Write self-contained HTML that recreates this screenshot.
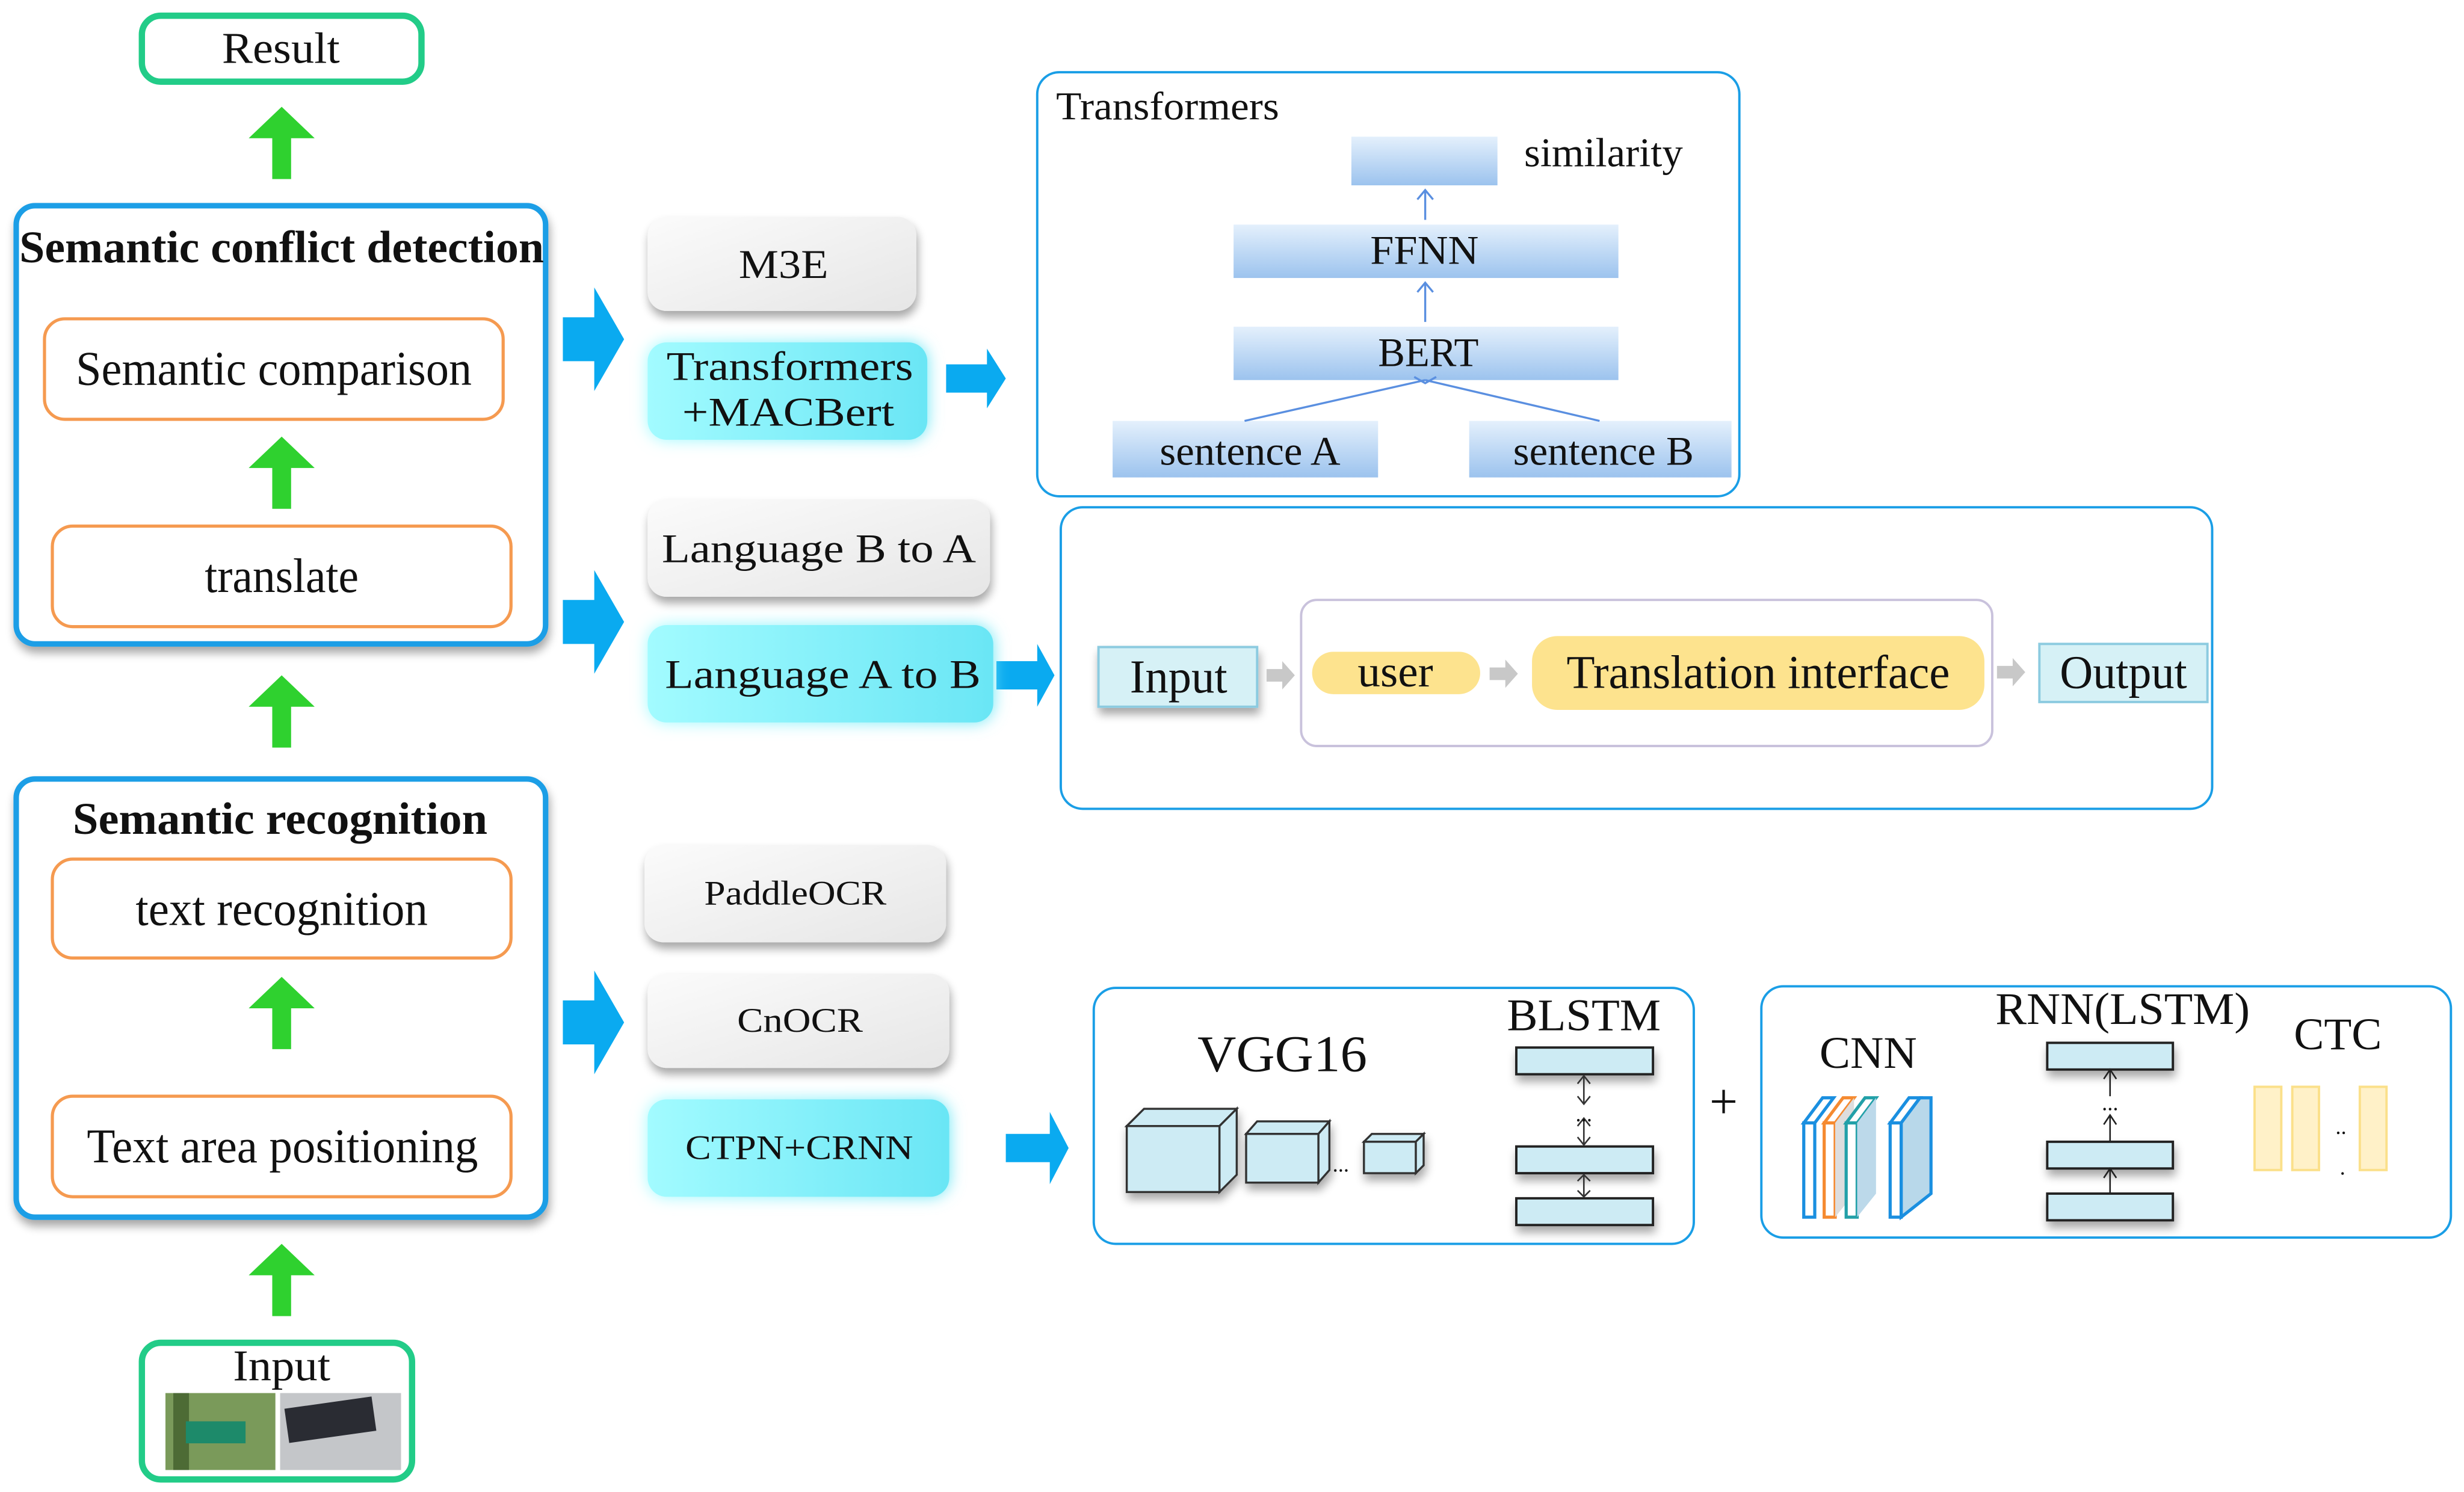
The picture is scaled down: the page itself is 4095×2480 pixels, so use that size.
<!DOCTYPE html>
<html><head><meta charset="utf-8">
<style>
html,body{margin:0;padding:0;background:#fff;}
svg{display:block;}
</style></head>
<body>
<svg width="4095" height="2480" viewBox="0 0 1568 950" xmlns="http://www.w3.org/2000/svg" font-family="Liberation Serif, DejaVu Serif, serif" fill="#111">
<defs>
<linearGradient id="gray" x1="0" y1="0" x2="1" y2="1"><stop offset="0" stop-color="#fbfbfb"/><stop offset="1" stop-color="#e6e6e6"/></linearGradient>
<linearGradient id="cyan" x1="0" y1="0" x2="1" y2="0"><stop offset="0" stop-color="#a2fbff"/><stop offset="1" stop-color="#6ae6f5"/></linearGradient>
<linearGradient id="bar" x1="0" y1="0" x2="0" y2="1"><stop offset="0" stop-color="#e4f0fc"/><stop offset="1" stop-color="#9cc3ee"/></linearGradient>
<filter id="sh" x="-20%" y="-20%" width="140%" height="150%"><feGaussianBlur in="SourceAlpha" stdDeviation="3"/><feOffset dx="1" dy="4"/><feComponentTransfer><feFuncA type="linear" slope="0.35"/></feComponentTransfer><feMerge><feMergeNode/><feMergeNode in="SourceGraphic"/></feMerge></filter>
<filter id="glow" x="-20%" y="-30%" width="140%" height="160%"><feGaussianBlur in="SourceGraphic" stdDeviation="5"/><feMerge><feMergeNode/><feMergeNode in="SourceGraphic"/></feMerge></filter>
<g id="garrow"><polygon points="-21,20 0,0 21,20 6,20 6,46 -6,46 -6,20" fill="#2fd12f"/></g>
<g id="barrow"><polygon points="0,14 20,14 20,-33 39,0 20,33 20,-14 0,-14" fill="#0aaaf0"/></g>
</defs>

<!-- Result -->
<rect x="90" y="10" width="178" height="42" rx="12" fill="#fff" stroke="#22cc88" stroke-width="4"/>
<text x="141" y="40" font-size="28" textLength="75" lengthAdjust="spacingAndGlyphs">Result</text>

<!-- Semantic conflict detection -->
<rect x="10" y="131" width="337" height="279" rx="12" fill="#fff" stroke="#1a9ee6" stroke-width="3.5" filter="url(#sh)"/>
<text x="12" y="167" font-size="29" font-weight="bold" textLength="334" lengthAdjust="spacingAndGlyphs">Semantic conflict detection</text>
<rect x="28" y="203" width="292" height="64" rx="13" fill="#fff" stroke="#f59a50" stroke-width="2"/>
<text x="48" y="245" font-size="31" textLength="252" lengthAdjust="spacingAndGlyphs">Semantic comparison</text>
<rect x="33" y="335" width="292" height="64" rx="13" fill="#fff" stroke="#f59a50" stroke-width="2"/>
<text x="130" y="377" font-size="31" textLength="98" lengthAdjust="spacingAndGlyphs">translate</text>

<!-- Semantic recognition -->
<rect x="10" y="496" width="337" height="279" rx="12" fill="#fff" stroke="#1a9ee6" stroke-width="3.5" filter="url(#sh)"/>
<text x="46" y="531" font-size="29" font-weight="bold" textLength="264" lengthAdjust="spacingAndGlyphs">Semantic recognition</text>
<rect x="33" y="547" width="292" height="63" rx="13" fill="#fff" stroke="#f59a50" stroke-width="2"/>
<text x="86" y="589" font-size="31" textLength="186" lengthAdjust="spacingAndGlyphs">text recognition</text>
<rect x="33" y="698" width="292" height="64" rx="13" fill="#fff" stroke="#f59a50" stroke-width="2"/>
<text x="55" y="740" font-size="31" textLength="249" lengthAdjust="spacingAndGlyphs">Text area positioning</text>

<!-- green arrows -->
<use href="#garrow" x="179" y="68"/>
<use href="#garrow" x="179" y="278"/>
<use href="#garrow" x="179" y="430"/>
<use href="#garrow" x="179" y="622"/>
<use href="#garrow" x="179" y="792"/>

<!-- Input -->
<rect x="90" y="855" width="172" height="87" rx="12" fill="#fff" stroke="#22cc88" stroke-width="4"/>
<text x="148" y="879" font-size="28" textLength="62" lengthAdjust="spacingAndGlyphs">Input</text>
<rect x="105" y="887" width="70" height="49" fill="#7a9a5a"/>
<rect x="110" y="887" width="10" height="49" fill="#4d6b35"/>
<rect x="118" y="905" width="38" height="14" fill="#1d8a6a"/>
<rect x="178" y="887" width="77" height="49" fill="#c4c6c9"/>
<rect x="182" y="893" width="56" height="22" fill="#2a2c33" transform="rotate(-8 210 904)"/>

<!-- blue arrows -->
<use href="#barrow" x="358" y="216"/>
<use href="#barrow" x="358" y="396"/>
<use href="#barrow" x="358" y="651"/>
<polygon points="602,232 628,232 628,222 640,241 628,260 628,250 602,250" fill="#0aaaf0"/>
<polygon points="634,421 660,421 660,410 671,430 660,450 660,439 634,439" fill="#0aaaf0"/>
<polygon points="640,722 668,722 668,708 680,731 668,754 668,740 640,740" fill="#0aaaf0"/>

<!-- buttons -->
<g filter="url(#sh)">
<rect x="412" y="138" width="171" height="60" rx="12" fill="url(#gray)"/>
<rect x="412" y="318" width="218" height="62" rx="12" fill="url(#gray)"/>
<rect x="410" y="538" width="192" height="62" rx="12" fill="url(#gray)"/>
<rect x="412" y="620" width="192" height="60" rx="12" fill="url(#gray)"/>
</g>
<g filter="url(#glow)">
<rect x="412" y="218" width="178" height="62" rx="12" fill="url(#cyan)"/>
<rect x="412" y="398" width="220" height="62" rx="12" fill="url(#cyan)"/>
<rect x="412" y="700" width="192" height="62" rx="12" fill="url(#cyan)"/>
</g>
<text x="470" y="177" font-size="26" textLength="57" lengthAdjust="spacingAndGlyphs">M3E</text>
<text x="424" y="242" font-size="26" textLength="157" lengthAdjust="spacingAndGlyphs">Transformers</text>
<text x="434" y="271" font-size="26" textLength="135" lengthAdjust="spacingAndGlyphs">+MACBert</text>
<text x="421" y="358" font-size="26" textLength="200" lengthAdjust="spacingAndGlyphs">Language B to A</text>
<text x="423" y="438" font-size="26" textLength="201" lengthAdjust="spacingAndGlyphs">Language A to B</text>
<text x="448" y="576" font-size="22" textLength="116" lengthAdjust="spacingAndGlyphs">PaddleOCR</text>
<text x="469" y="657" font-size="22" textLength="80" lengthAdjust="spacingAndGlyphs">CnOCR</text>
<text x="436" y="738" font-size="22" textLength="145" lengthAdjust="spacingAndGlyphs">CTPN+CRNN</text>

<!-- Transformers box -->
<rect x="660" y="46" width="447" height="270" rx="14" fill="#fff" stroke="#1a9ee6" stroke-width="1.5"/>
<text x="672" y="76" font-size="25" textLength="142" lengthAdjust="spacingAndGlyphs">Transformers</text>
<rect x="860" y="87" width="93" height="31" fill="url(#bar)"/>
<text x="970" y="106" font-size="26" textLength="101" lengthAdjust="spacingAndGlyphs">similarity</text>
<rect x="785" y="143" width="245" height="34" fill="url(#bar)"/>
<text x="872" y="168" font-size="26" textLength="69" lengthAdjust="spacingAndGlyphs">FFNN</text>
<rect x="785" y="208" width="245" height="34" fill="url(#bar)"/>
<text x="877" y="233" font-size="26" textLength="64" lengthAdjust="spacingAndGlyphs">BERT</text>
<rect x="708" y="268" width="169" height="36" fill="url(#bar)"/>
<text x="738" y="296" font-size="26" textLength="115" lengthAdjust="spacingAndGlyphs">sentence A</text>
<rect x="935" y="268" width="167" height="36" fill="url(#bar)"/>
<text x="963" y="296" font-size="26" textLength="115" lengthAdjust="spacingAndGlyphs">sentence B</text>
<g stroke="#5a8fe0" stroke-width="1.3" fill="none">
<line x1="907" y1="140" x2="907" y2="121"/><polyline points="902,127 907,121 912,127"/>
<line x1="907" y1="205" x2="907" y2="180"/><polyline points="902,186 907,180 912,186"/>
<line x1="792" y1="268" x2="907" y2="242"/><line x1="1018" y1="268" x2="907" y2="242"/>
<polyline points="900,240 907,244 914,240"/>
</g>

<!-- Translation box -->
<rect x="675" y="323" width="733" height="192" rx="14" fill="#fff" stroke="#1a9ee6" stroke-width="1.5"/>
<rect x="828" y="382" width="440" height="93" rx="10" fill="#fff" stroke="#c9c2dc" stroke-width="1.5"/>
<rect x="699" y="412" width="101" height="38" fill="#d6f1f6" stroke="#8ccbe0" stroke-width="1.5" filter="url(#sh)"/>
<text x="719" y="441" font-size="30" textLength="62" lengthAdjust="spacingAndGlyphs">Input</text>
<rect x="835" y="415" width="107" height="27" rx="13.5" fill="#fde38e"/>
<text x="864" y="437" font-size="28" textLength="48" lengthAdjust="spacingAndGlyphs">user</text>
<rect x="975" y="405" width="288" height="47" rx="16" fill="#fde38e"/>
<text x="997" y="438" font-size="30" textLength="244" lengthAdjust="spacingAndGlyphs">Translation interface</text>
<rect x="1298" y="410" width="107" height="37" fill="#d6f1f6" stroke="#8ccbe0" stroke-width="1.5"/>
<text x="1311" y="438" font-size="30" textLength="81" lengthAdjust="spacingAndGlyphs">Output</text>
<g fill="#c8c8c8">
<polygon points="806,426 816,426 816,421 824,430 816,439 816,434 806,434"/>
<polygon points="948,425 958,425 958,420 966,429 958,438 958,433 948,433"/>
<polygon points="1271,424 1281,424 1281,419 1289,428 1281,437 1281,432 1271,432"/>
<polygon points="920,709 932,709 932,703 941,713 932,723 932,717 920,717"/>
<polygon points="1256,714 1268,714 1268,708 1276,718 1268,728 1268,722 1256,722"/>
<polygon points="1412,714 1424,714 1424,708 1432,718 1424,728 1424,722 1412,722"/>
</g>

<!-- VGG box -->
<rect x="696" y="629" width="382" height="163" rx="14" fill="#fff" stroke="#1a9ee6" stroke-width="1.5"/>
<text x="762" y="682" font-size="33" textLength="108" lengthAdjust="spacingAndGlyphs">VGG16</text>
<g stroke="#333" stroke-width="1.3" fill="#cdebf4" filter="url(#sh)">
<polygon points="717,717 728,706 787,706 776,717"/><polygon points="776,717 787,706 787,748 776,759"/><rect x="717" y="717" width="59" height="42"/>
<polygon points="793,722 800,714 846,714 839,722"/><polygon points="839,722 846,714 846,745 839,753"/><rect x="793" y="722" width="46" height="31"/>
<polygon points="868,727 873,722 906,722 901,727"/><polygon points="901,727 906,722 906,742 901,747"/><rect x="868" y="727" width="33" height="20"/>
</g>
<text x="848" y="746" font-size="14">...</text>
<text x="959" y="656" font-size="29" textLength="98" lengthAdjust="spacingAndGlyphs">BLSTM</text>
<g stroke="#222" stroke-width="1.5" fill="#cdebf4" filter="url(#sh)">
<rect x="965" y="667" width="87" height="17"/>
<rect x="965" y="730" width="87" height="17"/>
<rect x="965" y="763" width="87" height="17"/>
</g>
<g stroke="#333" stroke-width="1" fill="none">
<line x1="1008" y1="685" x2="1008" y2="703"/><polyline points="1004,690 1008,685 1012,690"/><polyline points="1004,698 1008,703 1012,698"/>
<line x1="1008" y1="712" x2="1008" y2="729"/><polyline points="1004,717 1008,712 1012,717"/><polyline points="1004,724 1008,729 1012,724"/>
<line x1="1008" y1="748" x2="1008" y2="762"/><polyline points="1004,752 1008,748 1012,752"/><polyline points="1004,758 1008,762 1012,758"/>
</g>
<text x="1008" y="714" font-size="14" text-anchor="middle">...</text>
<text x="1097" y="712" font-size="32" text-anchor="middle">+</text>

<!-- CNN box -->
<rect x="1121" y="628" width="439" height="160" rx="14" fill="#fff" stroke="#1a9ee6" stroke-width="1.5"/>
<text x="1158" y="680" font-size="29" textLength="62" lengthAdjust="spacingAndGlyphs">CNN</text>
<text x="1270" y="652" font-size="29" textLength="162" lengthAdjust="spacingAndGlyphs">RNN(LSTM)</text>
<text x="1460" y="668" font-size="29" textLength="56" lengthAdjust="spacingAndGlyphs">CTC</text>
<g stroke-width="2">
<polygon points="1148,715 1160,699 1167,699 1155,715" fill="#fff" stroke="#1a8fe0"/><rect x="1148" y="715" width="7" height="60" fill="#fff" stroke="#1a8fe0"/>
<polygon points="1161,715 1173,699 1180,699 1168,715" fill="#fff" stroke="#f58a30"/><rect x="1161" y="715" width="7" height="60" fill="#fff" stroke="#f58a30"/>
<polygon points="1168,715 1180,699 1180,760 1168,775" fill="#ddd" stroke="none"/>
<polygon points="1175,715 1187,699 1194,699 1182,715" fill="#fff" stroke="#22a0a8"/><rect x="1175" y="715" width="7" height="60" fill="#fff" stroke="#22a0a8"/>
<polygon points="1182,715 1194,699 1194,760 1182,775" fill="#bcd9ea" stroke="none"/>
<polygon points="1203,715 1215,699 1222,699 1210,715" fill="#fff" stroke="#1a8fe0"/>
<polygon points="1210,715 1222,699 1229,699 1229,760 1210,775" fill="#b8d8ea" stroke="#1a8fe0"/><rect x="1203" y="715" width="7" height="60" fill="#fff" stroke="#1a8fe0"/>
</g>
<g stroke="#222" stroke-width="1.5" fill="#cdebf4" filter="url(#sh)">
<rect x="1303" y="664" width="80" height="17"/>
<rect x="1303" y="727" width="80" height="17"/>
<rect x="1303" y="760" width="80" height="17"/>
</g>
<g stroke="#222" stroke-width="1" fill="none">
<line x1="1343" y1="681" x2="1343" y2="698"/><polyline points="1339,687 1343,681 1347,687"/>
<line x1="1343" y1="710" x2="1343" y2="727"/><polyline points="1339,716 1343,710 1347,716"/>
<line x1="1343" y1="744" x2="1343" y2="760"/><polyline points="1339,750 1343,744 1347,750"/>
</g>
<text x="1343" y="707" font-size="14" text-anchor="middle">...</text>
<g fill="#fff1c8" stroke="#fbe08a" stroke-width="1.5">
<rect x="1435" y="692" width="17" height="53"/><rect x="1459" y="692" width="17" height="53"/><rect x="1502" y="692" width="17" height="53"/>
</g>
<text x="1490" y="722" font-size="14" text-anchor="middle">..</text>
<text x="1491" y="748" font-size="14" text-anchor="middle">.</text>
</svg>
</body></html>
